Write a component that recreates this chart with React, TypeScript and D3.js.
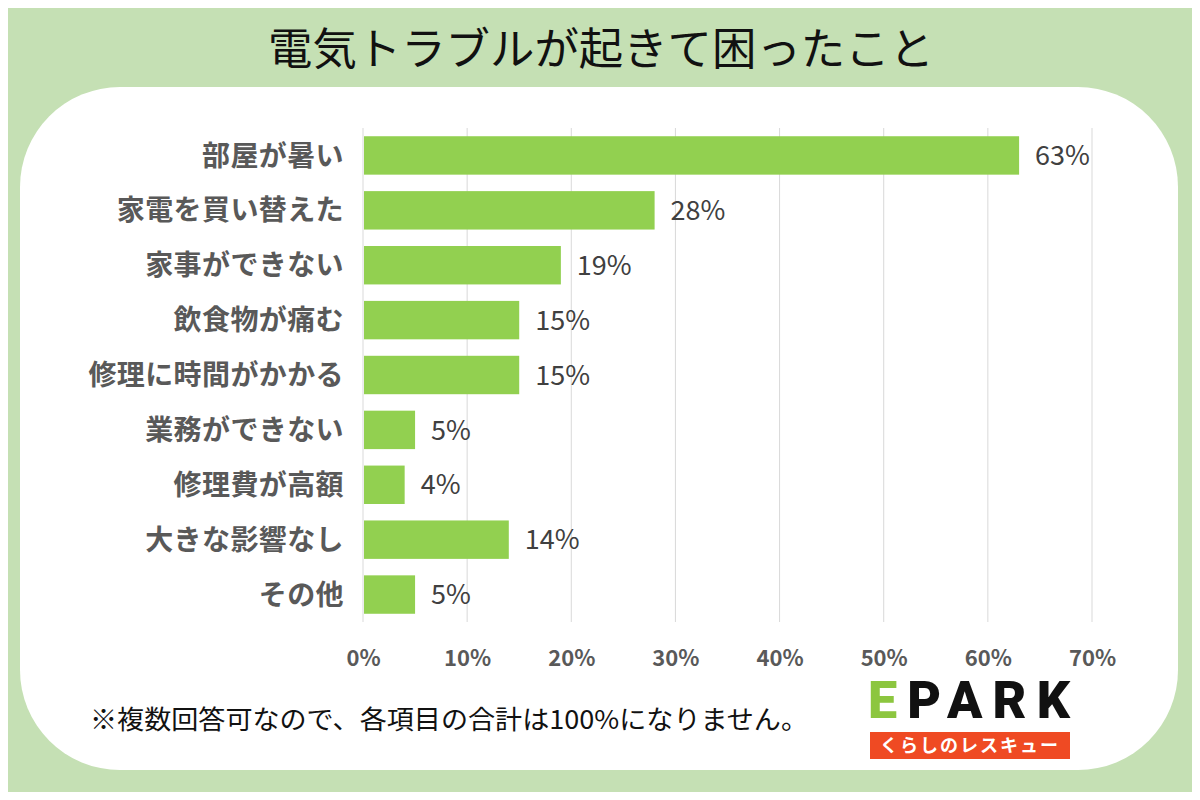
import { useEffect, useRef } from "react";
import * as d3 from "d3";

const categories = [
  "部屋が暑い",
  "家電を買い替えた",
  "家事ができない",
  "飲食物が痛む",
  "修理に時間がかかる",
  "業務ができない",
  "修理費が高額",
  "大きな影響なし",
  "その他",
];
const values = [63, 28, 19, 15, 15, 5, 4, 14, 5];
const xTicks = [0, 10, 20, 30, 40, 50, 60, 70];

const TITLE = "電気トラブルが起きて困ったこと";
const NOTE = "※複数回答可なので、各項目の合計は100%になりません。";

const JP = "'Noto Sans CJK JP', 'Noto Sans', sans-serif";

export default function App() {
  const svgRef = useRef<SVGSVGElement>(null);

  useEffect(() => {
    if (!svgRef.current) return;
    const W = 1200;
    const H = 800;
    const svg = d3.select(svgRef.current);
    svg.selectAll("*").remove();

    // ── Background ──────────────────────────────────────────────
    svg.append("rect").attr("width", W).attr("height", H).attr("fill", "#c5e0b4");
    svg.append("rect")
      .attr("x", 20).attr("y", 87)
      .attr("width", 1158).attr("height", 683)
      .attr("rx", 100).attr("ry", 100)
      .attr("fill", "#ffffff");

    svg.append("text")
      .attr("x", 601).attr("y", 65)
      .attr("text-anchor", "middle")
      .attr("font-family", JP)
      .attr("font-size", 44)
      .attr("textLength", 666)
      .attr("lengthAdjust", "spacingAndGlyphs")
      .attr("fill", "#111")
      .text(TITLE);

    // ── Scales ──────────────────────────────────────────────────
    const x = d3.scaleLinear().domain([0, 70]).range([363, 1092]);
    const y = d3.scaleBand<string>()
      .domain(categories)
      .range([128, 622])
      .paddingInner(0.3)
      .paddingOuter(0.15);

    // gridlines
    svg.append("g")
      .selectAll("line")
      .data(xTicks)
      .join("line")
      .attr("x1", (d) => x(d)).attr("x2", (d) => x(d))
      .attr("y1", 128).attr("y2", 622)
      .attr("stroke", "#d9d9d9")
      .attr("stroke-width", 1);

    // bars
    svg.append("g")
      .selectAll("rect")
      .data(values)
      .join("rect")
      .attr("x", x(0) + 1)
      .attr("y", (_, i) => y(categories[i])!)
      .attr("width", (d) => x(d) - x(0) - 1)
      .attr("height", y.bandwidth())
      .attr("fill", "#92d050");

    // value labels
    svg.append("g")
      .selectAll("text")
      .data(values)
      .join("text")
      .attr("x", (d) => x(d) + 16)
      .attr("y", (_, i) => y(categories[i])! + y.bandwidth() / 2)
      .attr("dy", "0.36em")
      .attr("font-family", JP)
      .attr("font-size", 27)
      .attr("fill", "#404040")
      .text((d) => `${d}%`);

    // category labels
    svg.append("g")
      .selectAll("text")
      .data(categories)
      .join("text")
      .attr("x", 344)
      .attr("y", (d) => y(d)! + y.bandwidth() / 2)
      .attr("dy", "0.36em")
      .attr("text-anchor", "end")
      .attr("font-family", JP)
      .attr("font-weight", 700)
      .attr("font-size", 28)
      .attr("letter-spacing", 0.4)
      .attr("fill", "#595959")
      .text((d) => d);

    // x axis
    const xAxis = d3.axisBottom(x).tickValues(xTicks).tickSize(0).tickPadding(0).tickFormat((d) => `${d}%`);
    svg.append("g")
      .attr("transform", "translate(0,666)")
      .call(xAxis)
      .call((ax) => ax.select(".domain").remove())
      .call((ax) => ax.selectAll("text")
        .attr("dy", 0)
        .attr("font-family", JP)
        .attr("font-weight", 700)
        .attr("font-size", 22)
        .attr("fill", "#595959"));

    // footnote
    svg.append("text")
      .attr("x", 90).attr("y", 729)
      .attr("font-family", JP)
      .attr("font-size", 26)
      .attr("textLength", 718)
      .attr("lengthAdjust", "spacingAndGlyphs")
      .attr("fill", "#111")
      .text(NOTE);

    // ── Logo ────────────────────────────────────────────────────
    const logo = svg.append("g");
    const t = logo.append("text")
      .attr("x", 868).attr("y", 718)
      .attr("font-family", "Roboto, 'Noto Sans', sans-serif")
      .attr("font-weight", 900)
      .attr("font-size", 52)
      .attr("textLength", 202)
      .attr("lengthAdjust", "spacing");
    t.append("tspan").attr("fill", "#8cc63f").text("E");
    t.append("tspan").attr("fill", "#111").text("PARK");

    logo.append("rect")
      .attr("x", 870).attr("y", 732)
      .attr("width", 200).attr("height", 27)
      .attr("fill", "#ef4a23");
    logo.append("text")
      .attr("x", 970).attr("y", 746)
      .attr("dy", "0.36em")
      .attr("text-anchor", "middle")
      .attr("font-family", JP)
      .attr("font-weight", 700)
      .attr("font-size", 18)
      .attr("letter-spacing", 2)
      .attr("fill", "#ffffff")
      .text("くらしのレスキュー");
  }, []);

  return (
    <div style={{ width: 1200, height: 800, margin: -8 }}>
      <svg ref={svgRef} width={1200} height={800} style={{ display: "block" }} />
    </div>
  );
}
